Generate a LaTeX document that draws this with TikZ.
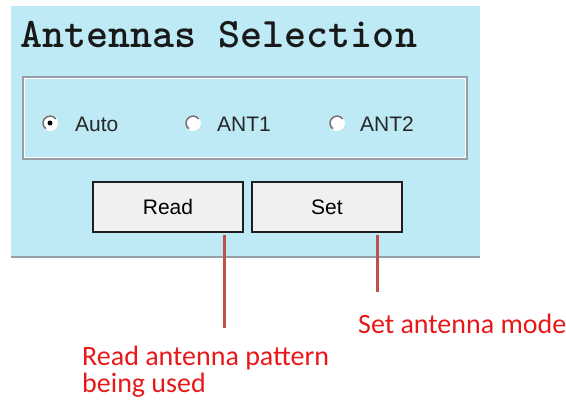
\documentclass[tikz,border=0pt]{standalone}
\usepackage{fontspec}
\setmainfont{Liberation Sans}
\newfontfamily\notefont{Carlito}
\definecolor{panelbg}{RGB}{190,234,246}
\definecolor{paneledge}{RGB}{150,160,166}
\definecolor{groupedge}{RGB}{150,158,168}
\definecolor{btnfill}{RGB}{240,240,240}
\definecolor{btnedge}{RGB}{30,30,30}
\definecolor{leaderred}{RGB}{192,80,77}
\definecolor{notered}{RGB}{232,24,24}
\tikzset{
  radiobtn/.style={circle, fill=white, minimum size=16pt, inner sep=0pt},
  radiotext/.style={anchor=base west, inner sep=0pt, font=\fontsize{21}{21}\selectfont, text=black!85},
  btnbox/.style={rectangle, draw=btnedge, line width=1.6pt, fill=btnfill, minimum width=150pt, minimum height=50pt, inner sep=0pt, font=\fontsize{21}{21}\selectfont},
  leader/.style={draw=leaderred, line width=3pt},
  note/.style={anchor=base west, inner sep=0pt, text=notered, font=\notefont\fontsize{28}{28}\selectfont}
}
\begin{document}
\begin{tikzpicture}[x=1pt,y=-1pt]
\useasboundingbox (0,0) rectangle (566,401);
% panel
\fill[panelbg] (11,6) rectangle (480,257);
\draw[paneledge, line width=2pt] (11,257) -- (480,257);
% title
\node[anchor=base west, inner sep=0pt, font=\ttfamily\bfseries\fontsize{42}{42}\selectfont, text=black!90] (title) at (20,48) {Antennas Selection};
% group box (etched)
\draw[groupedge, line width=1.3pt] (23,77) rectangle (467,159);
\draw[white, line width=1pt] (24.5,78.5) rectangle (465.5,157.5);
% radio buttons
\node[radiobtn] (rauto) at (50,123) {};
\node[radiobtn] (rant1) at (193,123) {};
\node[radiobtn] (rant2) at (337,123) {};
\foreach \r in {rauto,rant1,rant2}{
  \draw[black!55, line width=1.6pt] ([shift={(125:7)}]\r.center) arc[start angle=125, end angle=325, radius=7];
}
\fill[black] (rauto.center) circle (2.5);
\node[radiotext] (tauto) at (75,132) {Auto};
\node[radiotext] (tant1) at (217,132) {ANT1};
\node[radiotext] (tant2) at (360,132) {ANT2};
% buttons
\node[btnbox] (read) at (168,207) {Read};
\node[btnbox] (set) at (327,207) {Set};
% leaders
\coordinate (readtop) at (224,235);
\coordinate (readend) at (224,328);
\coordinate (settop) at (377,235);
\coordinate (setend) at (377,292);
\draw[leader] (readtop) -- (readend);
\draw[leader] (settop) -- (setend);
% notes
\node[note] (setnote) at (358,334) {Set antenna mode};
\node[note] (readnote1) at (82,366) {Read antenna pattern};
\node[note] (readnote2) at (82,392) {being used};
\end{tikzpicture}
\end{document}
